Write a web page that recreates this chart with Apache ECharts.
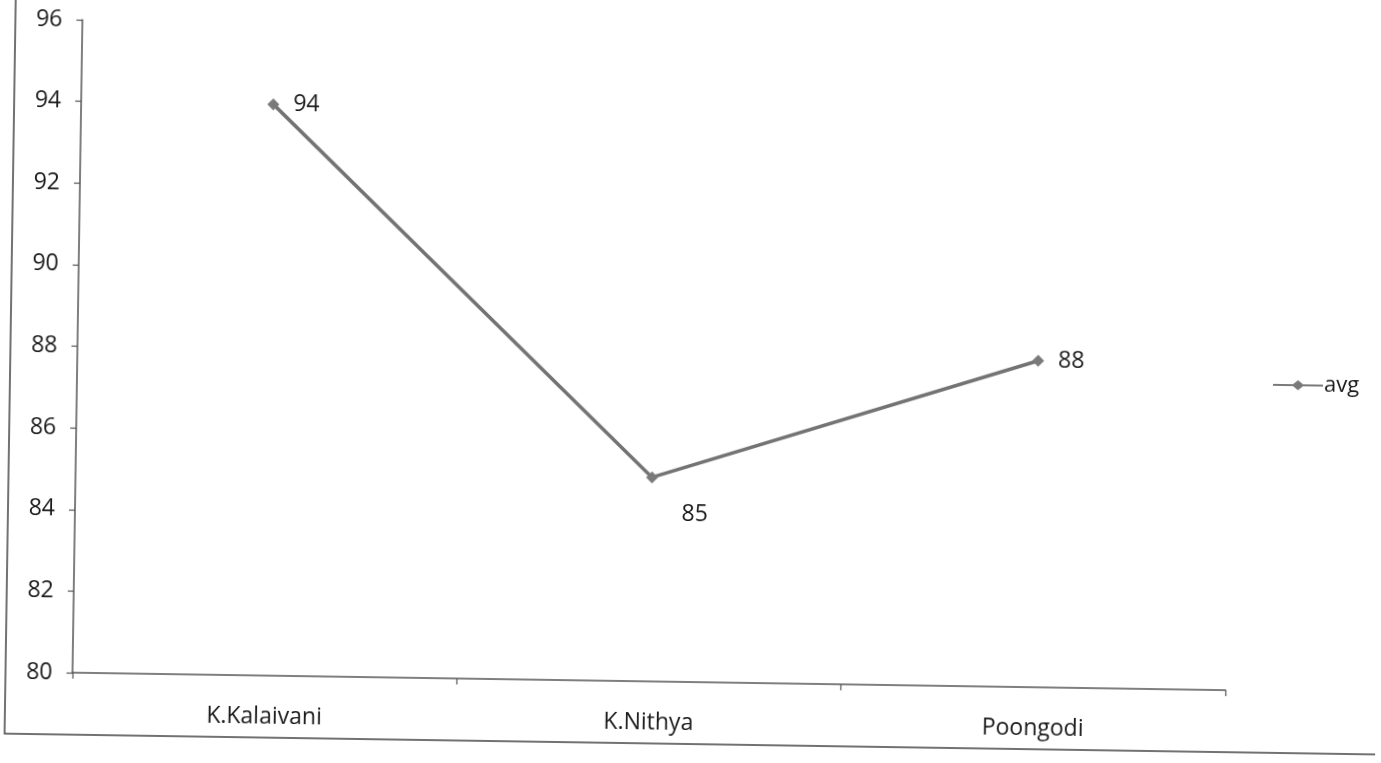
<!DOCTYPE html>
<html>
<head>
<meta charset="utf-8">
<style>
  html, body { margin: 0; padding: 0; background: #fff; overflow: hidden; }
  #chart { width: 1381px; height: 763px; transform: rotate(0.87deg); transform-origin: 690px 381px; }
</style>
<script src="https://cdn.jsdelivr.net/npm/echarts@6/dist/echarts.min.js"></script>
</head>
<body>
<div id="chart"></div>
<script>
// Average marks per student
const students = ['K.Kalaivani', 'K.Nithya', 'Poongodi'];
const avgValues = [94, 85, 88];
const yTicks = { min: 80, max: 96, step: 2 };

const FONT = '"Open Sans", Lato, sans-serif';
const TEXT = '#1a1a1a';
const chart = echarts.init(document.getElementById('chart'));

chart.setOption({
  animation: false,
  backgroundColor: '#fff',
  textStyle: { fontFamily: FONT },
  grid: { left: 77, right: 151, top: 29, bottom: 81 },
  legend: {
    data: ['avg'],
    left: 1268,
    top: 360,
    // line with a diamond in the middle
    icon: 'path://M0,4.0 L20,4.0 L25,0 L30,4.0 L50,4.0 L50,6.0 L30,6.0 L25,10 L20,6.0 L0,6.0 Z',
    itemWidth: 50,
    itemHeight: 10,
    itemGap: 4,
    textStyle: { fontSize: 22, color: TEXT, fontFamily: FONT, padding: [0, 0, 0, -4] }
  },
  xAxis: {
    type: 'category',
    data: students,
    boundaryGap: true,
    axisLine: { lineStyle: { color: '#555', width: 1.5 } },
    axisTick: { show: true, length: 6, lineStyle: { color: '#555', width: 1.2 } },
    axisLabel: { fontSize: 23, color: TEXT, margin: 30, fontFamily: FONT }
  },
  yAxis: {
    type: 'value',
    min: yTicks.min,
    max: yTicks.max,
    interval: yTicks.step,
    axisLine: { show: true, lineStyle: { color: '#555', width: 1.5 } },
    axisTick: { show: true, length: 6, lineStyle: { color: '#555', width: 1.2 } },
    splitLine: { show: false },
    axisLabel: { fontSize: 23, color: TEXT, margin: 20, fontFamily: FONT }
  },
  series: [{
    name: 'avg',
    type: 'line',
    data: avgValues,
    symbol: 'diamond',
    symbolSize: 12,
    lineStyle: { color: '#737373', width: 3.5 },
    itemStyle: { color: '#7a7a7a' },
    label: {
      show: true,
      position: 'right',
      distance: 14,
      fontSize: 23,
      color: TEXT,
      fontFamily: FONT
    },
    labelLayout: function (params) {
      // the low point carries its label underneath
      if (params.dataIndex === 1) {
        return { dx: 10, dy: 37 };
      }
      return {};
    }
  }],
  graphic: [{
    type: 'rect',
    shape: { x: 10, y: -30, width: 1420, height: 774 },
    style: { fill: 'none', stroke: '#444', lineWidth: 1.5 },
    silent: true
  }]
});
</script>
</body>
</html>
